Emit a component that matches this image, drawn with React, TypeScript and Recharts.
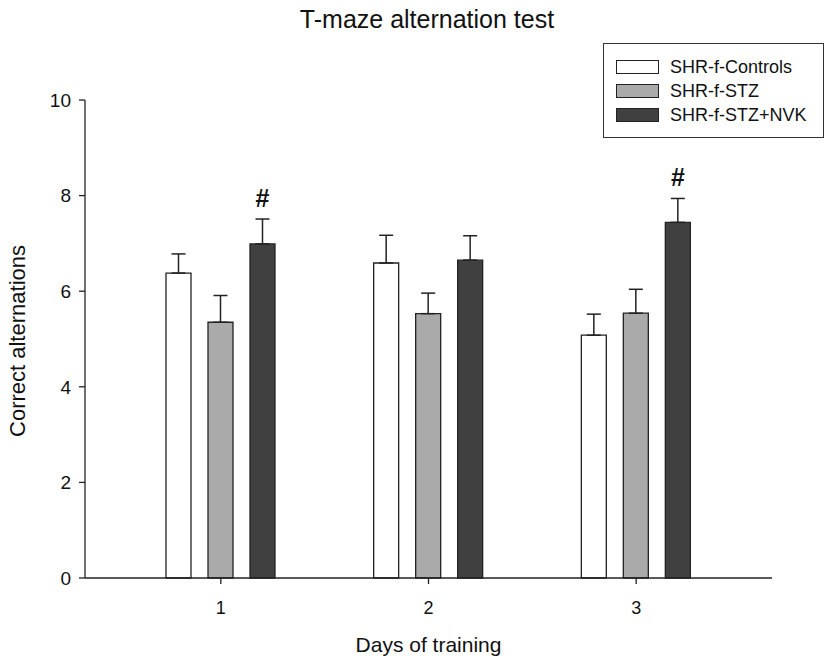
import React from 'react';
import { BarChart, Bar, XAxis, YAxis, ErrorBar, LabelList, Label, Legend } from 'recharts';

const FONT = 'Arial, "Liberation Sans", Helvetica, sans-serif';

const days = ['1', '2', '3'];
const controls = [6.38, 6.59, 5.08];
const controlsErr = [0.4, 0.58, 0.44];
const stz = [5.35, 5.53, 5.54];
const stzErr = [0.56, 0.43, 0.5];
const nvk = [6.99, 6.65, 7.44];
const nvkErr = [0.52, 0.51, 0.5];
const nvkMark = ['#', '', '#'];
const yTicks = [0, 2, 4, 6, 8, 10];
const seriesNames = ['SHR-f-Controls', 'SHR-f-STZ', 'SHR-f-STZ+NVK'];
const seriesColors = ['#ffffff', '#aaaaaa', '#404040'];
const title = 'T-maze alternation test';
const xTitle = 'Days of training';
const yTitle = 'Correct alternations';

const data = days.map((d, i) => ({
  day: d,
  controls: controls[i],
  controlsErr: [0, controlsErr[i]],
  stz: stz[i],
  stzErr: [0, stzErr[i]],
  nvk: nvk[i],
  nvkErr: [0, nvkErr[i]],
  mark: nvkMark[i],
}));

const MarkLabel = (props: any) => {
  const { x, y, width, height, value, index } = props;
  if (!value) return null;
  const ppu = height / nvk[index];
  const errTop = y - nvkErr[index] * ppu;
  return (
    <text x={x + width / 2} y={errTop - 12} textAnchor="middle" fontFamily={FONT} fontSize={25} fontWeight="bold" fill="#111">
      {value}
    </text>
  );
};

const LegendBox = () => (
  <div
    style={{
      position: 'relative',
      width: 221,
      height: 95,
      boxSizing: 'border-box',
      border: '1.5px solid #333',
      background: '#fff',
      fontFamily: FONT,
    }}
  >
    {seriesNames.map((n, i) => (
      <div key={n} style={{ position: 'absolute', left: 12, top: 15 + i * 24, height: 16, display: 'flex', alignItems: 'center' }}>
        <div style={{ width: 43, height: 14, boxSizing: 'border-box', border: '1.3px solid #222', background: seriesColors[i] }} />
        <span style={{ marginLeft: 11, fontSize: 18, color: '#111', whiteSpace: 'nowrap', lineHeight: '16px' }}>{n}</span>
      </div>
    ))}
  </div>
);

export default function App() {
  return (
    <div style={{ position: 'absolute', left: 0, top: 0, width: 826, height: 660, background: '#fff' }}>
      <div
        style={{
          position: 'absolute',
          left: 0,
          width: 854,
          top: 4,
          textAlign: 'center',
          fontFamily: FONT,
          fontSize: 25,
          color: '#111',
          lineHeight: '30px',
        }}
      >
        {title}
      </div>
      <BarChart
        width={826}
        height={660}
        data={data}
        margin={{ top: 100, right: 54, bottom: 0, left: 0 }}
        barSize={25}
        barGap={17}
        style={{ position: 'absolute', left: 0, top: 0 }}
      >
        <XAxis
          dataKey="day"
          padding={{ left: 32, right: 32 }}
          height={82}
          tickSize={6}
          tickMargin={17}
          stroke="#222"
          strokeWidth={1.3}
          tick={{ fontSize: 18, fill: '#111', fontFamily: FONT }}
        >
          <Label
            content={(p: any) => {
              const vb = p.viewBox;
              return (
                <text x={vb.x + vb.width / 2} y={vb.y + 74} textAnchor="middle" fontFamily={FONT} fontSize={21} fill="#111">
                  {xTitle}
                </text>
              );
            }}
          />
        </XAxis>
        <YAxis
          width={85}
          domain={[0, 10]}
          ticks={yTicks}
          tickSize={6}
          tickMargin={8}
          stroke="#222"
          strokeWidth={1.3}
          tick={{ fontSize: 19, fill: '#111', fontFamily: FONT }}
          interval={0}
        >
          <Label
            content={(p: any) => {
              const vb = p.viewBox;
              const cy = vb.y + vb.height / 2 + 2;
              return (
                <text
                  x={17}
                  y={cy}
                  transform={`rotate(-90, 17, ${cy})`}
                  textAnchor="middle"
                  dominantBaseline="central"
                  fontFamily={FONT}
                  fontSize={22}
                  fill="#111"
                >
                  {yTitle}
                </text>
              );
            }}
          />
        </YAxis>
        <Legend
          layout="vertical"
          align="center"
          verticalAlign="middle"
          wrapperStyle={{ position: 'absolute', left: 603, top: 43, width: 221, height: 95 }}
          content={() => <LegendBox />}
        />
        <Bar dataKey="controls" name={seriesNames[0]} fill={seriesColors[0]} stroke="#222" strokeWidth={1.3} isAnimationActive={false}>
          <ErrorBar dataKey="controlsErr" direction="y" width={7} stroke="#222" strokeWidth={1.5} isAnimationActive={false} />
        </Bar>
        <Bar dataKey="stz" name={seriesNames[1]} fill={seriesColors[1]} stroke="#222" strokeWidth={1.3} isAnimationActive={false}>
          <ErrorBar dataKey="stzErr" direction="y" width={7} stroke="#222" strokeWidth={1.5} isAnimationActive={false} />
        </Bar>
        <Bar dataKey="nvk" name={seriesNames[2]} fill={seriesColors[2]} stroke="#222" strokeWidth={1.3} isAnimationActive={false}>
          <ErrorBar dataKey="nvkErr" direction="y" width={7} stroke="#222" strokeWidth={1.5} isAnimationActive={false} />
          <LabelList dataKey="mark" content={MarkLabel} />
        </Bar>
      </BarChart>
    </div>
  );
}
